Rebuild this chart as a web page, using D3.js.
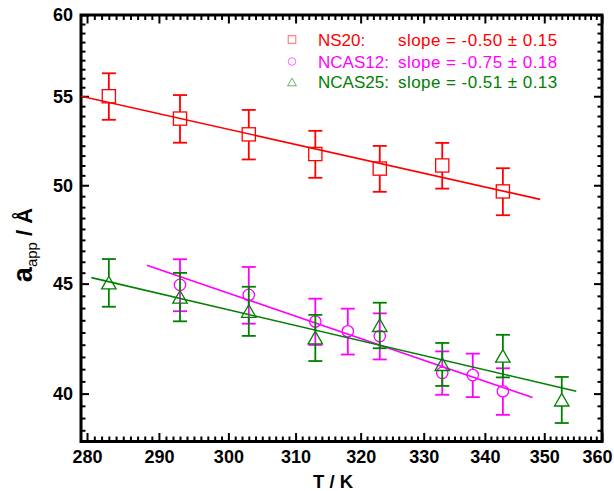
<!DOCTYPE html>
<html>
<head>
<meta charset="utf-8">
<script src="https://cdn.jsdelivr.net/npm/d3@7"></script>
<style>
  html, body { margin: 0; padding: 0; background: #fff; }
  svg { display: block; font-family: "Liberation Sans", Arial, sans-serif; }
</style>
</head>
<body>
<svg id="chart" width="614" height="491"></svg>
<script>
// ---------- data ----------
const xMajorTicks = [280, 290, 300, 310, 320, 330, 340, 350, 360];
const yMajorTicks = [40, 45, 50, 55, 60];

const ns20T   = [283, 293, 303, 313, 323, 333, 343];
const ns20A   = [55.0, 53.7, 52.8, 51.7, 50.9, 51.07, 49.67];
const ns20Err = [1.37, 1.37, 1.4, 1.3, 1.25, 1.25, 1.25];

const ncas12T   = [293, 303, 313, 318, 323, 333, 338, 343];
const ncas12A   = [44.94, 44.46, 43.21, 42.76, 42.54, 40.9, 40.8, 40.1];
const ncas12Err = [1.25, 1.35, 1.07, 1.05, 1.05, 0.95, 0.95, 1.0];

const ncas25T   = [283, 293, 303, 313, 323, 333, 343, 353];
const ncas25A   = [45.05, 44.37, 43.7, 42.47, 43.04, 41.28, 41.65, 39.74];
const ncas25Err = [1.15, 1.15, 1.15, 1.05, 1.05, 0.95, 0.95, 0.98];

// fitted power-law lines (straight in log-log), endpoints
const ns20FitT   = [279.2, 349.3];
const ns20FitA   = [55.0, 49.25];
const ncas12FitT = [288.3, 348.0];
const ncas12FitA = [45.9, 39.83];
const ncas25FitT = [280.6, 355.5];
const ncas25FitA = [45.29, 40.10];

const seriesNames  = ["NS20:", "NCAS12:", "NCAS25:"];
const seriesSlopes = ["slope = -0.50 \u00b1 0.15", "slope = -0.75 \u00b1 0.18", "slope = -0.51 \u00b1 0.13"];
const seriesColors = ["#ff0000", "#ff00ff", "#008000"];
const seriesShapes = ["square", "circle", "triangle"];

// ---------- layout ----------
const svg = d3.select("#chart");
const pL = 81, pR = 602, pT = 15, pB = 441.5;

const x = d3.scaleLog().domain([279.18, 360]).range([pL, pR]);
const y = d3.scaleLog().domain([38.0, 60]).range([pB, pT]);

// minor ticks
const xMinor = d3.range(280, 361, 1).filter(v => v % 10 !== 0);
const yMinor = [];
for (let i = 0; i < yMajorTicks.length - 1; i++) {
  const a = yMajorTicks[i], b = yMajorTicks[i + 1];
  for (let k = 1; k < 9; k++) yMinor.push(a * Math.pow(b / a, k / 9));
}
{
  const r = Math.pow(yMajorTicks[0] / yMajorTicks[1], 1 / 9);
  let v = yMajorTicks[0] * r;
  while (v > y.domain()[0]) { yMinor.push(v); v *= r; }
}

const fmt = d3.format("d");
function styleAxis(g) {
  g.select(".domain").remove();
  g.selectAll(".tick line").attr("stroke", "#000").attr("stroke-width", 2);
  g.selectAll(".tick text")
    .attr("font-size", 18).attr("font-weight", "bold")
    .attr("fill", "#000").attr("font-family", '"Liberation Sans", Arial, sans-serif');
}

const xAxisG = svg.append("g").attr("transform", `translate(0,${pB})`)
  .call(d3.axisBottom(x).tickValues(xMajorTicks).tickFormat(fmt).tickSize(-8.5).tickPadding(8.5)).call(styleAxis);
// keep the last label inside the picture, as in the reference
xAxisG.selectAll(".tick text").filter(d => d === 360).attr("dx", -5);
svg.append("g").attr("transform", `translate(0,${pB})`)
  .call(d3.axisBottom(x).tickValues(xMinor).tickFormat("").tickSize(-5)).call(styleAxis);
svg.append("g").attr("transform", `translate(0,${pT})`)
  .call(d3.axisTop(x).tickValues(xMajorTicks).tickFormat("").tickSize(-8.5)).call(styleAxis);
svg.append("g").attr("transform", `translate(0,${pT})`)
  .call(d3.axisTop(x).tickValues(xMinor).tickFormat("").tickSize(-5)).call(styleAxis);
svg.append("g").attr("transform", `translate(${pL},0)`)
  .call(d3.axisLeft(y).tickValues(yMajorTicks).tickFormat(fmt).tickSize(-8).tickPadding(8)).call(styleAxis);
svg.append("g").attr("transform", `translate(${pL},0)`)
  .call(d3.axisLeft(y).tickValues(yMinor).tickFormat("").tickSize(-4.5)).call(styleAxis);
svg.append("g").attr("transform", `translate(${pR},0)`)
  .call(d3.axisRight(y).tickValues(yMajorTicks).tickFormat("").tickSize(-8)).call(styleAxis);
svg.append("g").attr("transform", `translate(${pR},0)`)
  .call(d3.axisRight(y).tickValues(yMinor).tickFormat("").tickSize(-4.5)).call(styleAxis);

svg.append("rect").attr("x", pL).attr("y", pT)
  .attr("width", pR - pL).attr("height", pB - pT)
  .attr("fill", "none").attr("stroke", "#000").attr("stroke-width", 3);

svg.append("text").attr("x", 333).attr("y", 488).attr("text-anchor", "middle")
  .attr("font-size", 18.5).attr("font-weight", "bold").text("T / K");

const yl = svg.append("text").attr("transform", "translate(32,245) rotate(-90)")
  .attr("text-anchor", "middle").attr("font-weight", "bold");
yl.append("tspan").attr("font-size", 27).text("a");
yl.append("tspan").attr("font-size", 15).attr("font-weight", "normal").attr("dy", 5).text("app");
yl.append("tspan").attr("font-size", 22).attr("dy", -5).text(" / \u00c5");

// ---------- marks ----------
const capHalf = 7;
const half = { square: 6.6, circle: 5.7, triangle: 6.3 };

function drawMarker(g, shape, cx, cy, size, color, sw) {
  if (shape === "square") {
    g.append("rect").attr("x", cx - size).attr("y", cy - size)
      .attr("width", 2 * size).attr("height", 2 * size)
      .attr("fill", "none").attr("stroke", color).attr("stroke-width", sw);
  } else if (shape === "circle") {
    g.append("circle").attr("cx", cx).attr("cy", cy).attr("r", size)
      .attr("fill", "none").attr("stroke", color).attr("stroke-width", sw);
  } else {
    const w = size * 1.15;
    g.append("path")
      .attr("d", `M${cx},${cy - size}L${cx + w},${cy + size}L${cx - w},${cy + size}Z`)
      .attr("fill", "none").attr("stroke", color).attr("stroke-width", sw);
  }
}

function drawSeries(T, A, E, fitT, fitA, color, shape) {
  const g = svg.append("g");
  g.append("line")
    .attr("x1", x(fitT[0])).attr("y1", y(fitA[0]))
    .attr("x2", x(fitT[1])).attr("y2", y(fitA[1]))
    .attr("stroke", color).attr("stroke-width", 1.6);
  const h = half[shape];
  T.forEach((t, i) => {
    const cx = x(t), cy = y(A[i]);
    const yt = y(A[i] + E[i]), yb = y(A[i] - E[i]);
    g.append("line").attr("x1", cx).attr("x2", cx).attr("y1", yt).attr("y2", cy - h)
      .attr("stroke", color).attr("stroke-width", 1.8);
    g.append("line").attr("x1", cx).attr("x2", cx).attr("y1", cy + h).attr("y2", yb)
      .attr("stroke", color).attr("stroke-width", 1.8);
    g.append("line").attr("x1", cx - capHalf).attr("x2", cx + capHalf).attr("y1", yt).attr("y2", yt)
      .attr("stroke", color).attr("stroke-width", 1.8);
    g.append("line").attr("x1", cx - capHalf).attr("x2", cx + capHalf).attr("y1", yb).attr("y2", yb)
      .attr("stroke", color).attr("stroke-width", 1.8);
    drawMarker(g, shape, cx, cy, h, color, 1.3);
  });
}

drawSeries(ns20T, ns20A, ns20Err, ns20FitT, ns20FitA, seriesColors[0], seriesShapes[0]);
drawSeries(ncas12T, ncas12A, ncas12Err, ncas12FitT, ncas12FitA, seriesColors[1], seriesShapes[1]);
drawSeries(ncas25T, ncas25A, ncas25Err, ncas25FitT, ncas25FitA, seriesColors[2], seriesShapes[2]);

// ---------- legend ----------
const legY = [39.5, 61.5, 82];
seriesNames.forEach((name, i) => {
  const g = svg.append("g");
  const lg = g.append("g").attr("opacity", 0.6);
  drawMarker(lg, seriesShapes[i], 292, legY[i], 3.8, seriesColors[i], 1);
  g.append("text").attr("x", 318).attr("y", legY[i] + 6)
    .attr("font-size", 17).attr("fill", seriesColors[i]).text(name);
  g.append("text").attr("x", 398).attr("y", legY[i] + 6)
    .attr("font-size", 17).attr("letter-spacing", 0.45).attr("fill", seriesColors[i]).text(seriesSlopes[i]);
});
</script>
</body>
</html>
